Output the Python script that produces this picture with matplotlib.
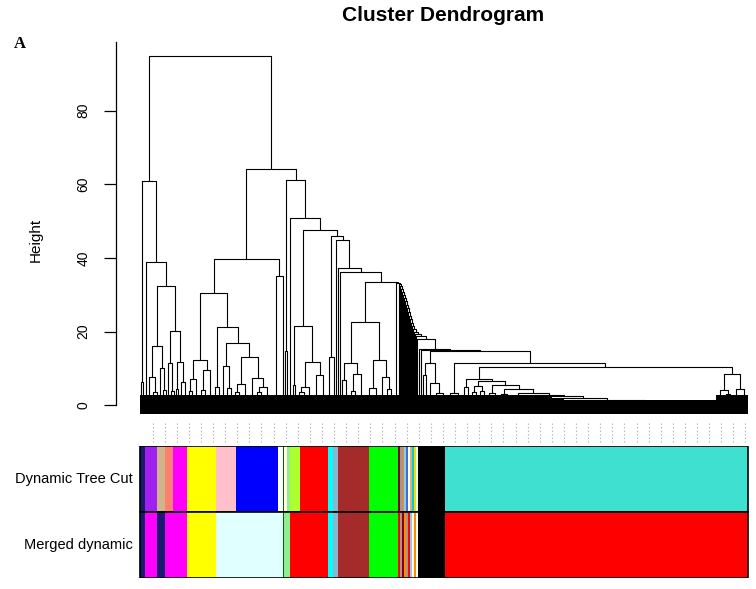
import matplotlib.pyplot as plt
import numpy as np
from matplotlib.collections import LineCollection
from matplotlib.patches import Rectangle

plt.rcParams['font.family'] = ['Liberation Sans', 'DejaVu Sans']

# merge tree: [height, left, right]
# a plain int is a bundle of that many leaves merged inside the black band
BAND_TOP = 2.7
HANG = -2.4

stair_heights = [33.3, 32.9, 32.3, 31.6, 30.8, 30.0, 29.1, 28.2, 27.3, 26.3,
                 25.3, 24.3, 23.3, 22.4, 21.5, 20.7, 20.0, 19.4, 18.8]
stair_sizes = [5, 1, 1, 1, 1, 1, 1, 1, 1, 1, 1, 1, 1, 1, 1, 1, 1, 1, 1]

tail_heights = [3.3, 2.9, 2.5, 2.1, 1.4]
tail_sizes = [16, 14, 12, 12, 10]
tail_last = 142


def chain(heights, sizes, last):
    node = last
    for h, n in zip(reversed(heights), reversed(sizes)):
        node = [h, n, node]
    return node


tail = chain(tail_heights, tail_sizes, tail_last)

n10_5 = [10.5,
         [7.1, [5.1, 4, 4],
          [6.6, [5.3, [3.5, 4, 4], [4.0, 4, 4]],
           [5.6, [3.3, 6, 6], [4.3, [3.0, 6, 6], tail]]]],
         [8.5, [4.2, 8, [3.2, 4, 4]], [4.3, 8, 8]]]
n14_8 = [14.8, [11.4, [8.2, 2, 4], [6.0, 4, [3.4, 7, 7]]],
         [11.4, [3.3, 8, 8], n10_5]]
stair = chain(stair_heights, stair_sizes, [17.9, 2, [15.2, 2, [15.0, 2, n14_8]]])

cluster_a = [61.0, [6.4, 2, 2],
             [38.8, 3,
              [32.5, [16.2, [7.8, 4, [3.6, 4, 4]], [10.2, 2, [4.2, 3, 3]]],
               [20.2, [11.4, 2, [3.8, 3, 3]], [11.7, [4.5, 2, 2], [6.2, 4, 4]]]]]]
cluster_b = [39.6,
             [30.4, [12.3, [7.1, [3.9, 3, 3], 6], [9.5, [4.1, 4, 4], 6]],
              [21.2, [5.0, 4, 4],
               [17.0, [10.7, 4, [4.6, 4, 4]],
                [13.2, [5.7, [3.5, 4, 4], 8], [7.3, 6, [5.0, [3.6, 4, 4], 8]]]]]],
             [35.2, 10, 3]]
cluster_c4 = [22.7, [11.4, [6.9, 2, 6], [8.5, [4.0, 4, 4], 8]],
              [12.3, [4.8, 8, 6], [7.8, 6, [4.4, 4, 4]]]]
cluster_c = [61.2, [14.7, 2, 2],
             [50.9, 4,
              [47.7, [21.6, [5.5, 2, 2],
                      [11.8, [5.1, [3.7, 5, 5], 6], [8.3, 8, 6]]],
               [45.9, [13.2, 6, 3],
                [45.0, 2, [37.3, 2, [36.1, 2, [33.6, cluster_c4, stair]]]]]]]]
tree = [94.8, cluster_a, [64.0, cluster_b, cluster_c]]

# module colour runs (colour, number of leaves), left to right
tree_cut = [('#191970', 5), ('#A020F0', 12), ('#D2B48C', 8), ('#FA8072', 8),
            ('#FF00FF', 14), ('#FFFF00', 29), ('#FFC0CB', 20), ('#0000FF', 42),
            ('#FFFFFF', 5), ('#006400', 1), ('#FFFFE0', 3), ('#90EE90', 3),
            ('#ADFF2F', 10), ('#FF0000', 28), ('#00FFFF', 5), ('#8DB6CD', 5),
            ('#A52A2A', 31), ('#00FF00', 29),
            ('#8B0000', 2), ('#999999', 3), ('#FF8C00', 1), ('#87CEEB', 2),
            ('#4169E1', 2), ('#FFFFE0', 2), ('#D2B48C', 2), ('#00CED1', 2),
            ('#FFD700', 2), ('#E0FFFF', 2),
            ('#000000', 27), ('#40E0D0', 303)]
merged = [('#191970', 5), ('#FF00FF', 12), ('#191970', 8), ('#FF00FF', 22),
          ('#FFFF00', 29), ('#E0FFFF', 67), ('#006400', 1), ('#90EE90', 6),
          ('#FF0000', 38), ('#00FFFF', 5), ('#8DB6CD', 5), ('#A52A2A', 31),
          ('#00FF00', 29),
          ('#FF0000', 2), ('#999999', 2), ('#8B0000', 2), ('#FF8C00', 2),
          ('#999999', 2), ('#FF0000', 2), ('#87CEEB', 2), ('#FFFFE0', 2),
          ('#FF8C00', 2), ('#FFFFFF', 2),
          ('#000000', 27), ('#FF0000', 303)]
row_names = ['Dynamic Tree Cut', 'Merged dynamic']
y_ticks = [0, 20, 40, 60, 80]


def layout(node, start, segs, bundles, parent_h):
    if isinstance(node, int):
        top = min(BAND_TOP, parent_h)
        bundles.append((start, node, top))
        return start + node / 2, top, start + node
    h, left, right = node
    xl, tl, nxt = layout(left, start, segs, bundles, h)
    xr, tr, nxt = layout(right, nxt, segs, bundles, h)
    segs.append([(xl, tl), (xl, h), (xr, h), (xr, tr)])
    return (xl + xr) / 2, h, nxt


segs, bundles = [], []
_, _, n_leaves = layout(tree, 0, segs, bundles, 100)

W, H = 756, 589
fig = plt.figure(figsize=(W / 100, H / 100), dpi=100)

# dendrogram panel
ax = fig.add_axes([116 / W, (H - 445) / H, 636 / W, 403 / H])
ax.set_xlim(-24, 612)
ax.set_ylim(-10.77, 98.6)

starts = np.array([b[0] for b in bundles], dtype=float)
sizes = np.array([b[1] for b in bundles], dtype=float)
tops = np.array([b[2] for b in bundles])
ax.bar(starts + sizes / 2, tops - HANG, width=sizes, bottom=HANG,
       color='black', linewidth=0)
ax.add_collection(LineCollection(segs, colors='black', linewidths=0.8))

# tiny leaf labels show up as faint dotted columns
ax.vlines(np.arange(12.5, n_leaves, 12.1), -9.9, -4.6, colors='#a8a8a8',
          linestyles=(0, (1, 2.2)), linewidth=0.8)

for s in ['top', 'right', 'bottom']:
    ax.spines[s].set_visible(False)
ax.spines['left'].set_bounds(0, 98.6)
ax.spines['left'].set_linewidth(0.9)
ax.set_xticks([])
ax.set_yticks(y_ticks)
ax.tick_params(axis='y', length=8.4, width=0.9, pad=10, labelsize=10,
               labelrotation=90)
for lab in ax.get_yticklabels():
    lab.set_va('center')
ax.set_ylabel('Height', fontsize=11)
ax.yaxis.set_label_coords(-0.115, 0.51)

# colour rows
cax = fig.add_axes([116 / W, (H - 578.3) / H, 636 / W, 132.3 / H], sharex=ax)
cax.set_ylim(0, 2)
cax.axis('off')
for row, runs in enumerate([tree_cut, merged]):
    y0 = 1 - row
    pos = 0
    for col, n in runs:
        cax.barh(y0 + 0.5, n, left=pos, height=1, color=col, linewidth=0)
        pos += n
    cax.add_patch(Rectangle((0, y0), n_leaves, 1, fill=False,
                            edgecolor='black', linewidth=1.2))
    cax.text(-7, y0 + 0.5, row_names[row], ha='right', va='center',
             fontsize=10.5)

fig.text(443 / W, 1 - 15.5 / H, 'Cluster Dendrogram', ha='center',
         va='center', fontsize=15, fontweight='bold')
fig.text(20 / W, 1 - 44.5 / H, 'A', ha='center', va='center', fontsize=12,
         fontweight='bold', family=['Liberation Serif', 'DejaVu Serif'])

fig.savefig('out.png', dpi=100)
